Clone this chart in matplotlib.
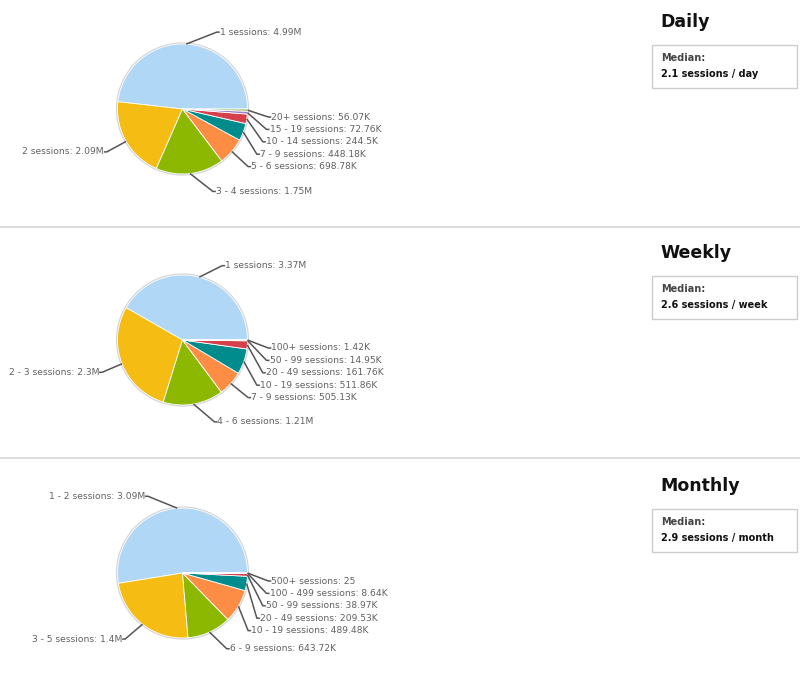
import matplotlib
matplotlib.use('Agg')
import matplotlib.pyplot as plt
from matplotlib.patches import Rectangle, Circle
import numpy as np

W, H = 800, 682

colors = ['#b1d7f7', '#f5bc13', '#8cb801', '#fd8c45', '#008c8c', '#d6404b', '#a07cc8', '#93bd62']

daily_names = ['1 sessions', '2 sessions', '3 - 4 sessions', '5 - 6 sessions', '7 - 9 sessions',
               '10 - 14 sessions', '15 - 19 sessions', '20+ sessions']
daily_values = [4990000, 2090000, 1750000, 698780, 448180, 244500, 72760, 56070]

weekly_names = ['1 sessions', '2 - 3 sessions', '4 - 6 sessions', '7 - 9 sessions', '10 - 19 sessions',
                '20 - 49 sessions', '50 - 99 sessions', '100+ sessions']
weekly_values = [3370000, 2300000, 1210000, 505130, 511860, 161760, 14950, 1420]

monthly_names = ['1 - 2 sessions', '3 - 5 sessions', '6 - 9 sessions', '10 - 19 sessions', '20 - 49 sessions',
                 '50 - 99 sessions', '100 - 499 sessions', '500+ sessions']
monthly_values = [3090000, 1400000, 643720, 489480, 209530, 38970, 8640, 25]

titles = ['Daily', 'Weekly', 'Monthly']
medians = ['2.1 sessions / day', '2.6 sessions / week', '2.9 sessions / month']


def fmt(v):
    if v >= 1e6:
        s, unit = '%.2f' % (v / 1e6), 'M'
    elif v >= 1e3:
        s, unit = '%.2f' % (v / 1e3), 'K'
    else:
        return str(v)
    s = s.rstrip('0').rstrip('.')
    return s + unit


def Y(y):
    # screen pixel (top down) -> data
    return H - y


def draw_pie(ax, cx, cy, r, names, values):
    ax.add_patch(Circle((cx, Y(cy)), r + 1.6, facecolor='#d4d4d4', edgecolor='none', zorder=0.5))
    ax.pie(values, colors=colors, startangle=0, counterclock=True, center=(cx, Y(cy)), radius=r,
           wedgeprops=dict(edgecolor='white', linewidth=0.6), frame=True)

    total = float(sum(values))
    mids = []
    start = 0.0
    for v in values:
        span = 360.0 * v / total
        mids.append(start + span / 2)
        start += span

    right, left = [], []
    for i, a in enumerate(mids):
        t = np.radians(a)
        y = cy - 80 * np.sin(t) + 3
        (right if np.cos(t) >= 0 else left).append([y, i])

    R = 86
    for side, sgn in ((right, 1), (left, -1)):
        side.sort()
        prev = -1e9
        for item in side:
            y, i = item
            t = np.radians(mids[i])
            if sgn > 0 and np.sin(t) < 0:
                y = max(y, cy + 8)
            y = max(y, prev + 12.4)
            prev = y
            dx = np.sqrt(max(R ** 2 - (y - cy - 2) ** 2, 0))
            ex = cx + sgn * dx
            px, py = cx + r * np.cos(t), cy - r * np.sin(t)
            ax.plot([px, ex, ex + sgn * 3], [Y(py), Y(y), Y(y)], color='#555555', lw=1.1,
                    solid_capstyle='butt', zorder=3)
            ax.text(ex + sgn * 3, Y(y), '%s: %s' % (names[i], fmt(values[i])), fontsize=6.6,
                    color='#606060', ha='left' if sgn > 0 else 'right', va='center', zorder=4)


fig = plt.figure(figsize=(W / 100, H / 100), dpi=100)
ax = fig.add_axes([0, 0, 1, 1])

panel_data = [(daily_names, daily_values), (weekly_names, weekly_values), (monthly_names, monthly_values)]
centers = [109, 340, 573]

for k in range(3):
    cy = centers[k]
    draw_pie(ax, 182.5, cy, 65, panel_data[k][0], panel_data[k][1])
    ax.text(660, Y(cy - 87), titles[k], fontsize=12.5, fontweight='bold', color='#111111',
            ha='left', va='center')
    ax.add_patch(Rectangle((652, Y(cy - 21)), 145, 43, facecolor='white', edgecolor='#cccccc', lw=1))
    ax.text(661, Y(cy - 51), 'Median:', fontsize=7, fontweight='bold', color='#444444',
            ha='left', va='center')
    ax.text(661, Y(cy - 35), medians[k], fontsize=7, fontweight='bold', color='#111111',
            ha='left', va='center')

for sep in [226.5, 458]:
    ax.plot([0, W], [Y(sep), Y(sep)], color='#dcdcdc', lw=1.4)

ax.set_xlim(0, W)
ax.set_ylim(0, H)
ax.set_aspect('auto')
ax.axis('off')

fig.savefig('out.png', dpi=100)
